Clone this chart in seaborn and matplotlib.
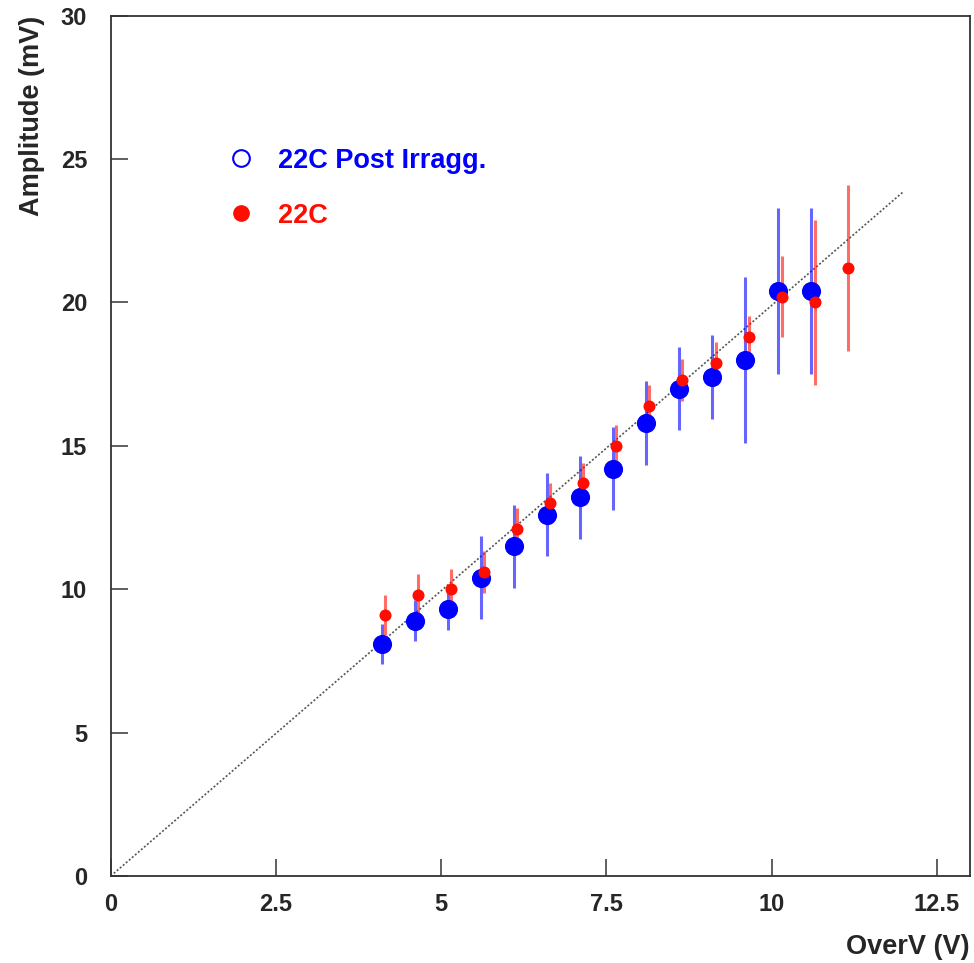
import numpy as np
import pandas as pd
import matplotlib
matplotlib.use("Agg")
import matplotlib.pyplot as plt
import seaborn as sns
from matplotlib.lines import Line2D

# Data
blue_x = [4.1, 4.6, 5.1, 5.6, 6.1, 6.6, 7.1, 7.6, 8.1, 8.6, 9.1, 9.6, 10.1, 10.6]
blue_y = [8.1, 8.9, 9.3, 10.4, 11.5, 12.6, 13.2, 14.2, 15.8, 17.0, 17.4, 18.0, 20.4, 20.4]
blue_err = [0.7, 0.72, 0.72, 1.45, 1.45, 1.45, 1.45, 1.45, 1.45, 1.45, 1.45, 2.9, 2.9, 2.9]

red_x = [4.15, 4.65, 5.15, 5.65, 6.15, 6.65, 7.15, 7.65, 8.15, 8.65, 9.15, 9.65, 10.15, 10.65, 11.15]
red_y = [9.1, 9.8, 10.0, 10.6, 12.1, 13.0, 13.7, 15.0, 16.4, 17.3, 17.9, 18.8, 20.2, 20.0, 21.2]
red_err = [0.7, 0.72, 0.72, 0.72, 0.72, 0.72, 0.72, 0.72, 0.72, 0.72, 0.72, 0.72, 1.42, 2.88, 2.88]

fit_x = [0.0, 12.0]
fit_slope = 1.99

x_ticks = [0, 2.5, 5, 7.5, 10, 12.5]
x_tick_labels = ["0", "2.5", "5", "7.5", "10", "12.5"]
y_ticks = [0, 5, 10, 15, 20, 25, 30]
y_tick_labels = ["0", "5", "10", "15", "20", "25", "30"]

legend_labels = ["22C Post Irragg.", "22C"]

sns.set_style("white")
plt.rcParams['font.family'] = ['Liberation Sans', 'DejaVu Sans']

fig = plt.figure(figsize=(9.74, 9.63), dpi=100)
ax = fig.add_axes([0.1137, 0.0903, 0.8822, 0.8934])

blue = (0.0, 0.0, 1.0)
red = (1.0, 0.05, 0.0)

# fit line
fx = np.array(fit_x)
sns.lineplot(x=fx, y=fit_slope * fx, ax=ax, color="#555555", linestyle=(0, (1.2, 1.2)),
             linewidth=1.2, zorder=1)

df_b = pd.DataFrame({"x": blue_x, "y": blue_y, "e": blue_err})
df_r = pd.DataFrame({"x": red_x, "y": red_y, "e": red_err})

ax.errorbar(df_b["x"], df_b["y"], yerr=df_b["e"], fmt="none", ecolor=blue, alpha=0.6,
            elinewidth=2.2, capsize=0, zorder=2)
ax.errorbar(df_r["x"], df_r["y"], yerr=df_r["e"], fmt="none", ecolor=red, alpha=0.6,
            elinewidth=2.2, capsize=0, zorder=3)
sns.scatterplot(data=df_b, x="x", y="y", ax=ax, color=blue, s=190, linewidth=0, zorder=4)
sns.scatterplot(data=df_r, x="x", y="y", ax=ax, color=red, s=75, linewidth=0, zorder=5)

ax.set_xlim(0, 13)
ax.set_ylim(0, 30)
ax.set_xticks(x_ticks)
ax.set_xticklabels(x_tick_labels)
ax.set_yticks(y_ticks)
ax.set_yticklabels(y_tick_labels)
ax.tick_params(axis="both", direction="in", length=12, width=1.2, color="#444444",
               labelsize=17, bottom=True, left=True, top=False, right=False)
ax.tick_params(axis="x", pad=12)
ax.tick_params(axis="y", pad=17)
for lab in ax.get_xticklabels() + ax.get_yticklabels():
    lab.set_fontweight("bold")

for sp in ax.spines.values():
    sp.set_visible(True)
    sp.set_color("#333333")
    sp.set_linewidth(1.3)

ax.set_xlabel("")
ax.set_ylabel("")
fig.text(0.9959, 0.017, "OverV (V)", ha="right", va="center", fontsize=19.5, fontweight="bold")
fig.text(0.033, 0.9837, "Amplitude (mV)", ha="center", va="top", rotation=90,
         fontsize=19.5, fontweight="bold")

handles = [
    Line2D([], [], marker="o", linestyle="none", markersize=12, markerfacecolor="none",
           markeredgecolor=blue, markeredgewidth=1.5),
    Line2D([], [], marker="o", linestyle="none", markersize=11, markerfacecolor=red,
           markeredgecolor=red),
]
leg = ax.legend(handles, legend_labels, loc="upper left", bbox_to_anchor=(0.092, 0.875),
                frameon=False, handletextpad=0.35, labelspacing=1.08,
                prop={"weight": "bold", "size": 19.5})
for txt, c in zip(leg.get_texts(), [blue, red]):
    txt.set_color(c)

fig.savefig("out.png", dpi=100)
